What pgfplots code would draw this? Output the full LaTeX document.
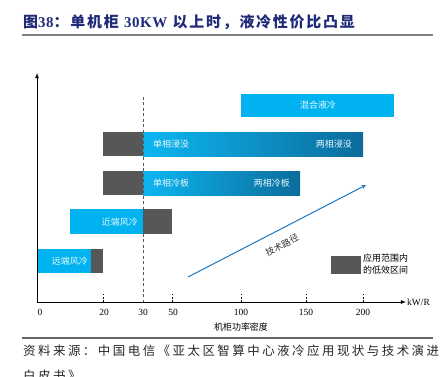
\documentclass[border=0pt]{standalone}
\usepackage{fontspec}
\setmainfont{Liberation Serif}
\newfontfamily\cjk{Noto Sans CJK SC}
\newfontfamily\cjksp{Noto Sans CJK SC}[LetterSpace=20]
\newfontfamily\cjkt{Noto Sans CJK SC}[LetterSpace=12]
\newfontfamily\latt{Liberation Serif}[LetterSpace=4]
\usepackage{pgfplots}
\pgfplotsset{compat=1.18}
\definecolor{lblue}{HTML}{00B2F0}
\definecolor{dblue}{HTML}{0B6C9C}
\definecolor{dgray}{HTML}{575757}
\definecolor{navy}{HTML}{1F2A78}
\definecolor{arrowblue}{HTML}{1A78C2}
\begin{document}
\begin{tikzpicture}
\begin{axis}[
  scale only axis, width=443bp, height=377bp,
  xmin=0, xmax=443, ymin=0, ymax=377, y dir=reverse,
  axis lines=none, clip=false,
]
% gray low-efficiency segments
\addplot[draw=none, fill=dgray] coordinates {(103,132) (143,132) (143,156) (103,156)} --cycle;
\addplot[draw=none, fill=dgray] coordinates {(103,171) (143,171) (143,195) (103,195)} --cycle;
\addplot[draw=none, fill=dgray] coordinates {(143,209) (172,209) (172,234) (143,234)} --cycle;
\addplot[draw=none, fill=dgray] coordinates {(91,249) (103,249) (103,273) (91,273)} --cycle;
\addplot[draw=none, fill=dgray] coordinates {(331,256) (361,256) (361,274) (331,274)} --cycle;
% light blue solid bars
\addplot[draw=none, fill=lblue] coordinates {(241,94) (394,94) (394,117) (241,117)} --cycle;
\addplot[draw=none, fill=lblue] coordinates {(70,209) (143,209) (143,234) (70,234)} --cycle;
\addplot[draw=none, fill=lblue] coordinates {(38,249) (91,249) (91,273) (38,273)} --cycle;
% gradient bars
\addplot[draw=none, left color=lblue!95!white, right color=dblue] coordinates {(143,132) (363,132) (363,156) (143,156)} --cycle;
\addplot[draw=none, left color=lblue!95!white, right color=dblue] coordinates {(143,171) (300,171) (300,195) (143,195)} --cycle;
% technology path arrow
\addplot[arrowblue, line width=1pt, -stealth] coordinates {(188,277) (366,185)};
% axes
\draw[black, line width=0.8pt, -latex] (axis cs:37,302) -- (axis cs:37,73);
\draw[black, line width=0.8pt, -latex] (axis cs:37,302) -- (axis cs:406,302);
\draw[dgray, line width=0.8pt, dash pattern=on 3pt off 2.5pt] (axis cs:143,97) -- (axis cs:143,302);
\pgfplotsinvokeforeach{103,172,241,306,363}{
  \draw[black, line width=0.6pt, dash pattern=on 2pt off 1.5pt] (axis cs:#1,302) -- (axis cs:#1,294);
}
% bar labels
\begin{scope}[every node/.style={font=\cjk\fontsize{9}{10}\selectfont, text=white!92!lblue, inner sep=0pt}]
\node at (axis cs:318,105) {混合液冷};
\node[anchor=west] at (axis cs:153,144) {单相浸没};
\node[anchor=east] at (axis cs:352,144) {两相浸没};
\node[anchor=west] at (axis cs:153,183) {单相冷板};
\node[anchor=east] at (axis cs:290,183) {两相冷板};
\node[anchor=east] at (axis cs:138,222) {近端风冷};
\node[anchor=east] at (axis cs:88,261) {远端风冷};
\end{scope}
\node[font=\cjk\fontsize{9}{10}\selectfont, text=black!80, rotate=27, inner sep=0pt] at (axis cs:282,245) {技术路径};
\node[font=\cjk\fontsize{9}{12}\selectfont, anchor=west, align=left, inner sep=0pt] at (axis cs:363,264) {应用范围内\\的低效区间};
% tick labels
\begin{scope}[every node/.style={font=\fontsize{9.5}{10}\selectfont, inner sep=0pt}]
\node at (axis cs:40,312) {0};
\node at (axis cs:104,312) {20};
\node at (axis cs:143,312) {30};
\node at (axis cs:173,312) {50};
\node at (axis cs:241,312) {100};
\node at (axis cs:306,312) {150};
\node at (axis cs:363,312) {200};
\node[anchor=west] at (axis cs:407,302) {kW/R};
\end{scope}
\node[font=\cjk\fontsize{9}{10}\selectfont, inner sep=0pt] at (axis cs:241,327) {机柜功率密度};
% title and frame lines
\node[anchor=west, inner sep=0pt, text=navy, font=\fontsize{15}{16}\selectfont] at (axis cs:23,22) {{\cjkt\bfseries 图}{\latt\bfseries 38}{\cjkt\bfseries ：单机柜 }{\latt\bfseries 30KW}{\cjkt\bfseries \ 以上时，液冷性价比凸显}};
\draw[gray, line width=1.3pt] (axis cs:22,35) -- (axis cs:433,35);
\draw[gray!80!black, line width=1.1pt] (axis cs:22,338) -- (axis cs:433,338);
\node[anchor=west, inner sep=0pt, text=black!85, font=\cjksp\fontsize{12.5}{14}\selectfont] at (axis cs:23,351) {资料来源：中国电信《亚太区智算中心液冷应用现状与技术演进};
\node[anchor=west, inner sep=0pt, text=black!85, font=\cjksp\fontsize{12.5}{14}\selectfont] at (axis cs:23,376) {白皮书》};
\end{axis}
\pgfresetboundingbox
\path (0,0) rectangle (443bp,377bp);
\end{tikzpicture}
\end{document}
